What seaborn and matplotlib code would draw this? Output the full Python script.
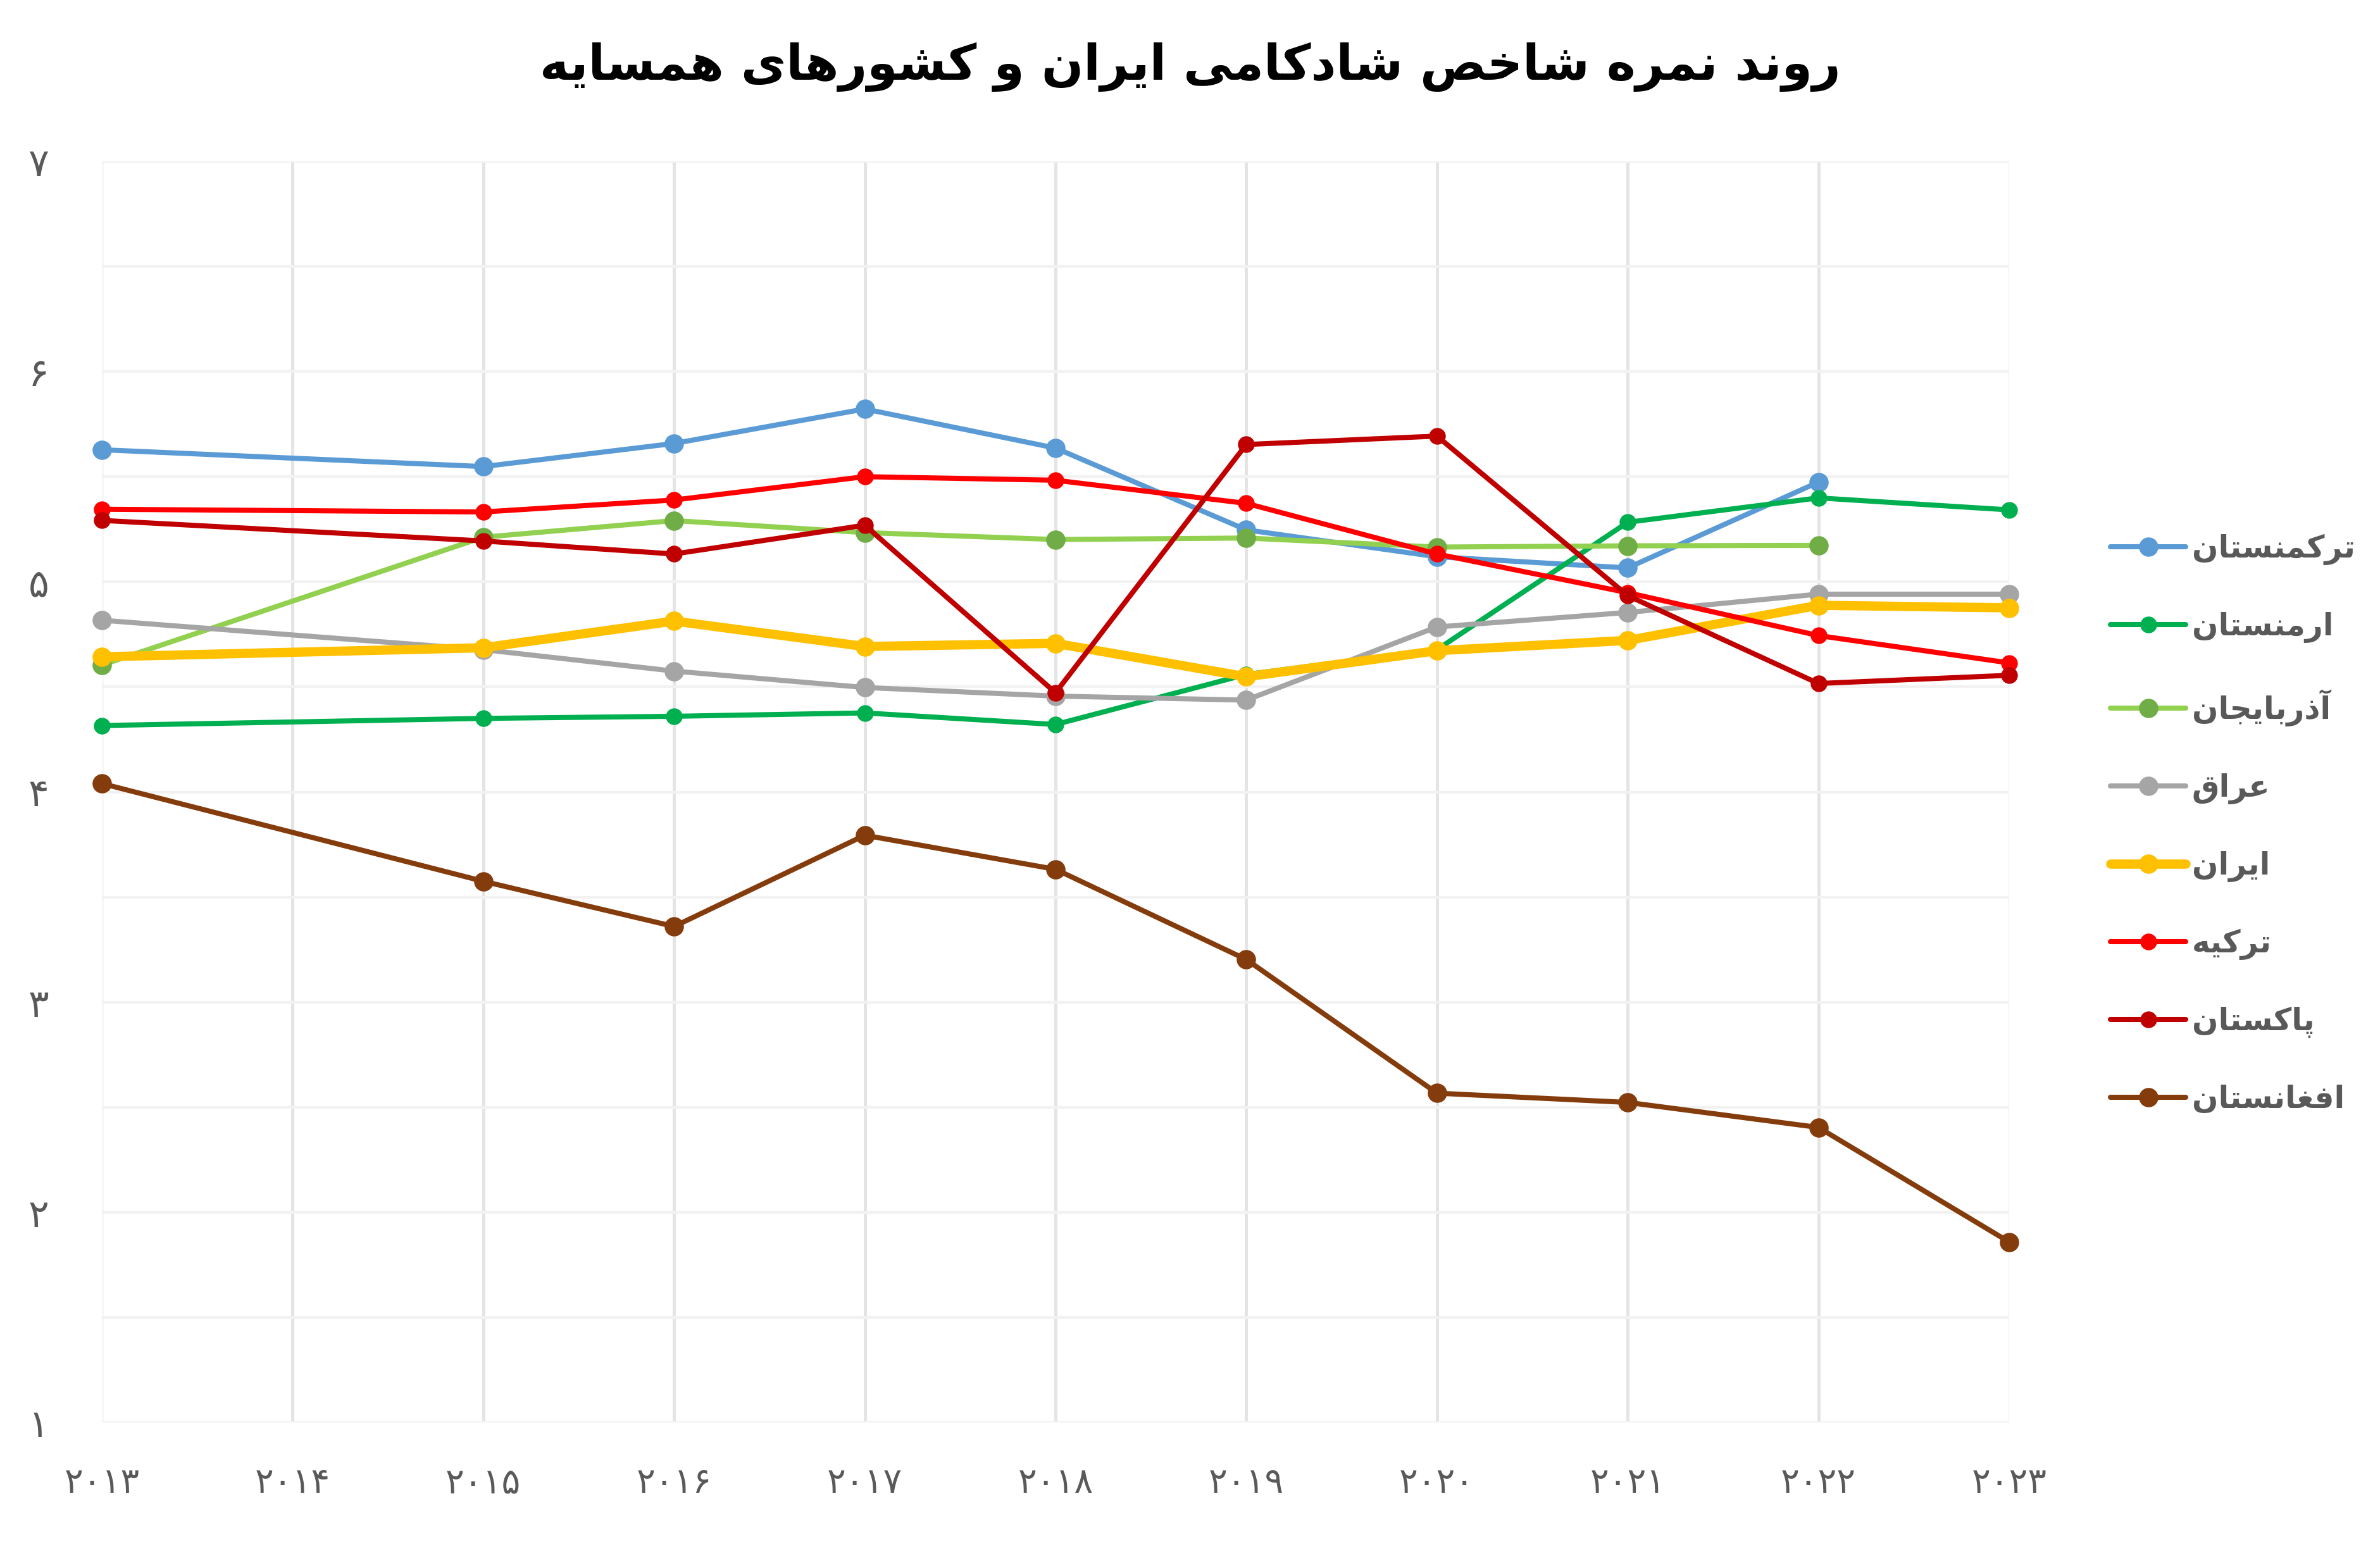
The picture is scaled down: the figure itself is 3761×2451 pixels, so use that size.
import numpy as np
import pandas as pd
import matplotlib
matplotlib.use("Agg")
import matplotlib.pyplot as plt
import seaborn as sns

# ---------------- data ----------------
years = [2013, 2015, 2016, 2017, 2018, 2019, 2020, 2021, 2022, 2023]

countries = ["ترکمنستان", "ارمنستان", "آذربایجان", "عراق", "ایران", "ترکیه", "پاکستان", "افغانستان"]

turkmenistan = [5.628, 5.548, 5.658, 5.822, 5.636, 5.247, 5.119, 5.066, 5.474, np.nan]
armenia      = [4.316, 4.350, 4.360, 4.376, 4.321, 4.559, 4.677, 5.283, 5.399, 5.342]
azerbaijan   = [4.604, 5.212, 5.291, 5.234, 5.201, 5.208, 5.165, 5.171, 5.173, np.nan]
iraq         = [4.817, 4.677, 4.575, 4.497, 4.456, 4.437, 4.785, 4.854, 4.941, 4.941]
iran         = [4.643, 4.686, 4.813, 4.692, 4.707, 4.548, 4.672, 4.721, 4.888, 4.876]
turkey       = [5.345, 5.332, 5.389, 5.500, 5.483, 5.373, 5.132, 4.948, 4.744, 4.614]
pakistan     = [5.292, 5.194, 5.132, 5.269, 4.472, 5.653, 5.693, 4.934, 4.516, 4.555]
afghanistan  = [4.040, 3.575, 3.360, 3.794, 3.632, 3.203, 2.567, 2.523, 2.404, 1.859]

series_values = [turkmenistan, armenia, azerbaijan, iraq, iran, turkey, pakistan, afghanistan]

title_text = "روند نمره شاخص شادکامی ایران و کشورهای همسایه"
x_ticks = list(range(2013, 2024))
x_tick_labels = ["۲۰۱۳", "۲۰۱۴", "۲۰۱۵", "۲۰۱۶", "۲۰۱۷", "۲۰۱۸", "۲۰۱۹", "۲۰۲۰", "۲۰۲۱", "۲۰۲۲", "۲۰۲۳"]
y_ticks = [1, 2, 3, 4, 5, 6, 7]
y_tick_labels = ["۱", "۲", "۳", "۴", "۵", "۶", "۷"]

# ---------------- styles ----------------
line_colors   = ["#5B9BD5", "#00B050", "#92D050", "#A5A5A5", "#FFC000", "#FF0000", "#C00000", "#843C0C"]
marker_colors = ["#5B9BD5", "#00B050", "#70AD47", "#A5A5A5", "#FFC000", "#FF0000", "#C00000", "#843C0C"]
line_widths   = [5.8, 5.8, 5.8, 5.8, 10.5, 5.8, 5.8, 5.8]
marker_sizes  = [22, 19, 22, 22, 22, 19, 19, 22]

# ---------------- simple Arabic-script shaping ----------------
FORMS = {
    '\u0627': ('\uFE8D', '\uFE8E', None, None),
    '\u0622': ('\uFE81', '\uFE82', None, None),
    '\u0628': ('\uFE8F', '\uFE90', '\uFE91', '\uFE92'),
    '\u067E': ('\uFB56', '\uFB57', '\uFB58', '\uFB59'),
    '\u062A': ('\uFE95', '\uFE96', '\uFE97', '\uFE98'),
    '\u062C': ('\uFE9D', '\uFE9E', '\uFE9F', '\uFEA0'),
    '\u062E': ('\uFEA5', '\uFEA6', '\uFEA7', '\uFEA8'),
    '\u062F': ('\uFEA9', '\uFEAA', None, None),
    '\u0630': ('\uFEAB', '\uFEAC', None, None),
    '\u0631': ('\uFEAD', '\uFEAE', None, None),
    '\u0633': ('\uFEB1', '\uFEB2', '\uFEB3', '\uFEB4'),
    '\u0634': ('\uFEB5', '\uFEB6', '\uFEB7', '\uFEB8'),
    '\u0635': ('\uFEB9', '\uFEBA', '\uFEBB', '\uFEBC'),
    '\u0639': ('\uFEC9', '\uFECA', '\uFECB', '\uFECC'),
    '\u063A': ('\uFECD', '\uFECE', '\uFECF', '\uFED0'),
    '\u0641': ('\uFED1', '\uFED2', '\uFED3', '\uFED4'),
    '\u0642': ('\uFED5', '\uFED6', '\uFED7', '\uFED8'),
    '\u06A9': ('\uFB8E', '\uFB8F', '\uFB90', '\uFB91'),
    '\u0645': ('\uFEE1', '\uFEE2', '\uFEE3', '\uFEE4'),
    '\u0646': ('\uFEE5', '\uFEE6', '\uFEE7', '\uFEE8'),
    '\u0647': ('\uFEE9', '\uFEEA', '\uFEEB', '\uFEEC'),
    '\u0648': ('\uFEED', '\uFEEE', None, None),
    '\u06CC': ('\uFBFC', '\uFBFD', '\uFBFE', '\uFBFF'),
}


def shape(text):
    chars = list(text)
    out = []
    for i, c in enumerate(chars):
        if c not in FORMS:
            out.append(c)
            continue
        iso, fin, ini, med = FORMS[c]
        prev = chars[i - 1] if i > 0 else None
        nxt = chars[i + 1] if i + 1 < len(chars) else None
        join_prev = prev in FORMS and FORMS[prev][2] is not None
        join_next = ini is not None and nxt in FORMS
        if join_prev and join_next:
            out.append(med)
        elif join_prev:
            out.append(fin)
        elif join_next:
            out.append(ini)
        else:
            out.append(iso)
    return "".join(reversed(out))


# ---------------- build table ----------------
rows = []
for name, vals in zip(countries, series_values):
    for yr, v in zip(years, vals):
        rows.append({"year": yr, "country": name, "score": v})
df = pd.DataFrame(rows)

sns.set_theme(style="white")
plt.rcParams["font.family"] = ["DejaVu Sans", "Noto Sans"]

W, H = 3761, 2451
fig = plt.figure(figsize=(W / 100, H / 100), dpi=100)
ax = fig.add_axes([161 / W, (H - 2248) / H, (3175 - 161) / W, (2248 - 255) / H])

for i, name in enumerate(countries):
    sub = df[df["country"] == name].dropna()
    sns.lineplot(
        data=sub, x="year", y="score", ax=ax,
        color=line_colors[i], linewidth=line_widths[i],
        marker="o", markersize=marker_sizes[i],
        markerfacecolor=marker_colors[i], markeredgecolor=marker_colors[i],
        markeredgewidth=0, label=shape(name), clip_on=False, zorder=3 + i,
        solid_capstyle="round", solid_joinstyle="round",
    )

ax.set_xlim(2013, 2023)
ax.set_ylim(1, 7)
ax.set_xticks(x_ticks)
ax.set_xticklabels(x_tick_labels)
ax.set_yticks(y_ticks)
ax.set_yticklabels(y_tick_labels)
ax.set_yticks(np.arange(1.5, 7, 1.0), minor=True)
ax.set_xlabel("")
ax.set_ylabel("")

ax.tick_params(axis="x", which="both", length=0, pad=50, labelsize=40, labelcolor="#595959")
ax.tick_params(axis="y", which="both", length=0, pad=72, labelsize=44, labelcolor="#595959")
for lab in ax.get_yticklabels():
    lab.set_horizontalalignment("center")
    lab.set_verticalalignment("center_baseline")

ax.grid(axis="y", which="both", color="#F2F2F2", linewidth=3)
ax.grid(axis="x", which="major", color="#E4E4E4", linewidth=3.5)
xgl = ax.xaxis.get_gridlines()
xgl[0].set_color("#F7F7F7")
xgl[-1].set_color("#F7F7F7")
ax.set_axisbelow(True)
for s in ax.spines.values():
    s.set_visible(False)

leg = ax.legend(
    loc="center left", bbox_to_anchor=(3335 / W, 1 - 1302 / H),
    bbox_transform=fig.transFigure, frameon=False,
    prop={"size": 35, "weight": "bold"}, labelcolor="#595959",
    handlelength=2.45, handletextpad=0.2, labelspacing=1.5,
    borderpad=0, borderaxespad=0,
)

fig.text(0.5, 1 - 106 / H, shape(title_text), ha="center", va="center",
         fontsize=56, fontweight="bold", color="black")

fig.savefig("out.png", dpi=100, facecolor="white")
